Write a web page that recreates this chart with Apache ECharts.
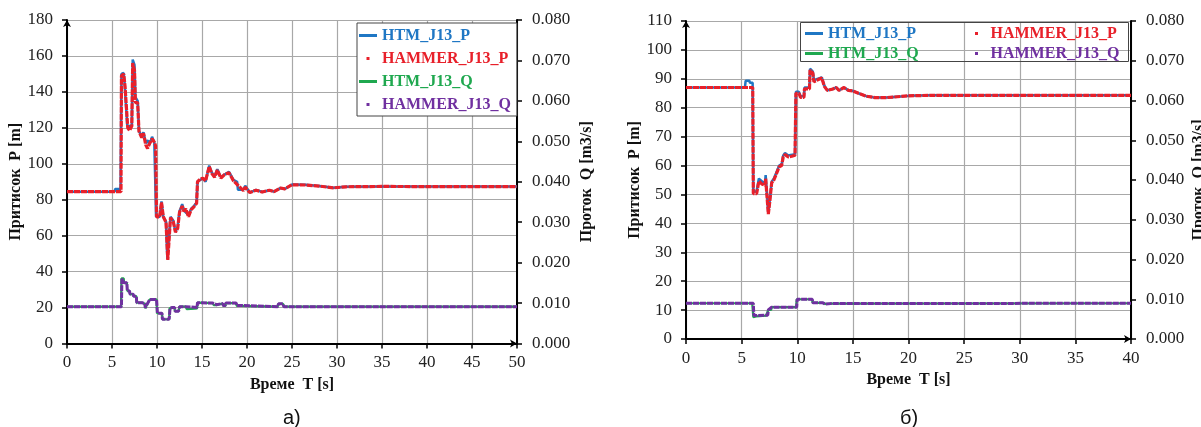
<!DOCTYPE html>
<html>
<head>
<meta charset="utf-8">
<script src="https://cdn.jsdelivr.net/npm/echarts@6/dist/echarts.min.js"></script>
<style>
  html, body { margin: 0; padding: 0; background: #fff; }
  #chart { width: 1201px; height: 427px; }
</style>
</head>
<body>
<div id="chart"></div>
<script>
// ---- panel a) : time [s], pressure [m], flow [m3/s] ----
const htmPa = [[0,84.5],[5.3,84.5],[5.35,86],[5.95,86],[6.05,150],[6.3,150.5],[6.4,145],[6.6,145],[6.7,121],[7.2,121],[7.3,158],[7.5,155],[7.6,137],[7.85,135],[8.0,118],[8.3,115.5],[8.5,117.5],[8.75,111.5],[9.0,113],[9.15,110.5],[9.45,115],[9.7,112],[9.85,111],[9.9,70.5],[10.3,70.5],[10.5,79],[10.7,70.5],[11.0,68],[11.15,47],[11.35,47],[11.5,70.5],[11.8,68.5],[12.05,62],[12.3,65],[12.5,73.5],[12.8,77.5],[13.0,74],[13.2,75],[13.5,71.5],[13.8,75],[14.1,76.5],[14.4,78.5],[14.5,90],[14.8,91],[15.1,92],[15.4,90],[15.8,99],[16.1,95],[16.4,93],[16.7,97],[17.1,92.5],[17.5,94],[18.0,95.5],[18.5,91],[18.9,90],[19.0,85.5],[19.6,85.5],[19.8,87.8],[20.3,84],[21.0,85.5],[21.7,84.3],[22.5,85.3],[23.0,84.5],[23.7,86.5],[24.2,86],[25.0,88.5],[26.5,88.3],[28.0,87.6],[29.6,86.6],[31,87.2],[35,87.4],[40,87.3],[45,87.3],[50,87.3]];
const hammerPa = [[0,84.5],[6.0,84.5],[6.05,149],[6.3,150],[6.45,143],[6.65,143],[6.75,120],[6.95,118.5],[7.2,121],[7.3,156],[7.5,152],[7.6,134],[7.85,134],[8.0,118],[8.3,114.5],[8.5,117],[8.75,110.5],[8.95,108.5],[9.15,111],[9.45,114],[9.7,112],[9.85,110],[9.95,70.5],[10.3,70.5],[10.5,78.5],[10.7,70.5],[11.0,67.5],[11.2,46.5],[11.5,70],[11.8,68],[12.05,62],[12.3,64],[12.5,73],[12.8,76.5],[13.0,73.5],[13.2,75],[13.5,70.5],[13.8,74.5],[14.1,76],[14.4,78],[14.5,90],[14.8,91.5],[15.1,92],[15.4,90.5],[15.8,98.5],[16.1,94.5],[16.4,92.5],[16.7,96.5],[17.1,92],[17.5,94],[18.0,95],[18.5,90.5],[19.0,88],[19.6,85],[19.8,87],[20.3,84],[21.0,85.3],[21.7,84.3],[22.5,85.3],[23.0,84.5],[23.7,86.5],[24.2,86],[25.0,88.3],[26.5,88.2],[28.0,87.6],[29.6,86.6],[31,87.2],[35,87.4],[40,87.3],[45,87.3],[50,87.3]];
const htmQa = [[0,0.0091],[6.0,0.0091],[6.05,0.0161],[6.3,0.0161],[6.35,0.0150],[6.65,0.0150],[6.7,0.0130],[6.95,0.0130],[7.0,0.0122],[7.35,0.0122],[7.4,0.0117],[7.7,0.0117],[7.75,0.0101],[8.35,0.0101],[8.4,0.0098],[8.65,0.0098],[8.7,0.0087],[8.9,0.0087],[8.95,0.0099],[9.15,0.0099],[9.2,0.0109],[9.95,0.0109],[10.0,0.0075],[10.55,0.0075],[10.6,0.0060],[11.35,0.0060],[11.4,0.0087],[11.7,0.0089],[11.95,0.0089],[12.0,0.0080],[12.4,0.0080],[12.5,0.0091],[13.2,0.0091],[13.3,0.0085],[14.2,0.0086],[14.45,0.0087],[14.5,0.0101],[16.2,0.0100],[16.3,0.0095],[16.6,0.0095],[16.7,0.0099],[17.3,0.0099],[17.35,0.0093],[17.6,0.0093],[17.65,0.0100],[18.8,0.0100],[18.85,0.0093],[19.3,0.0093],[19.5,0.0091],[23.4,0.0091],[23.5,0.0098],[24.0,0.0098],[24.1,0.0091],[50,0.0091]];
const hammerQa = [[0,0.0091],[6.05,0.0091],[6.1,0.0160],[6.3,0.0160],[6.35,0.0150],[6.65,0.0150],[6.7,0.0130],[6.95,0.0130],[7.0,0.0122],[7.35,0.0122],[7.4,0.0117],[7.7,0.0117],[7.75,0.0101],[8.35,0.0101],[8.4,0.0098],[8.65,0.0098],[8.7,0.0088],[8.9,0.0088],[8.95,0.0099],[9.15,0.0099],[9.2,0.0109],[9.95,0.0109],[10.05,0.0075],[10.55,0.0075],[10.6,0.0060],[11.35,0.0060],[11.45,0.0087],[11.7,0.0089],[11.95,0.0089],[12.0,0.0080],[12.4,0.0080],[12.5,0.0091],[13.2,0.0091],[13.3,0.0089],[14.45,0.0089],[14.5,0.0101],[16.2,0.0100],[16.3,0.0096],[16.6,0.0096],[16.7,0.0099],[17.3,0.0099],[17.35,0.0094],[17.6,0.0094],[17.65,0.0100],[18.8,0.0100],[18.85,0.0094],[19.3,0.0094],[19.5,0.0091],[23.4,0.0091],[23.5,0.0098],[24.0,0.0098],[24.1,0.0091],[50,0.0091]];

// ---- panel б) ----
const htmPb = [[0,87],[5.3,87],[5.36,89.3],[5.7,89.3],[5.75,88.6],[5.99,88.6],[6.05,51],[6.35,51],[6.55,55.5],[6.7,56],[6.86,54.4],[7.1,54],[7.16,56.7],[7.3,56.5],[7.4,43.4],[7.5,43.4],[7.55,48.6],[7.65,48.6],[7.7,54.4],[7.9,55.5],[8.06,57],[8.38,60],[8.6,60.5],[8.74,63.5],[8.9,64.3],[9.2,63.5],[9.5,63.7],[9.8,64],[9.88,85.5],[10.15,85.5],[10.3,84],[10.6,84],[10.65,87],[11.1,87],[11.15,93.5],[11.4,92.5],[11.5,89.5],[11.8,90],[12.2,90.5],[12.45,87.5],[12.7,86],[13.2,86.5],[13.5,87],[13.75,86],[14.2,87],[14.6,86],[15.0,85.8],[15.5,85],[16.2,84],[17,83.5],[18,83.5],[19,83.8],[20,84.1],[22,84.3],[25,84.3],[30,84.3],[35,84.3],[40,84.3]];
const hammerPb = [[0,87],[6.0,87],[6.05,50.3],[6.35,50.3],[6.55,54.6],[6.7,55],[6.86,53.5],[7.1,53.2],[7.16,55.5],[7.3,55.5],[7.4,43.2],[7.5,43.2],[7.55,48.2],[7.65,48.2],[7.7,54],[7.9,55],[8.06,56.5],[8.38,59.6],[8.6,60],[8.74,63],[8.9,63.8],[9.2,63],[9.5,63.2],[9.8,63.6],[9.88,85],[10.15,85],[10.3,83.6],[10.6,83.6],[10.65,86.5],[11.1,86.5],[11.15,93],[11.4,92],[11.5,89],[11.8,89.6],[12.2,90.3],[12.45,87.3],[12.7,86],[13.2,86.5],[13.5,87],[13.75,86],[14.2,87],[14.6,86],[15.0,85.8],[15.5,85],[16.2,84],[17,83.5],[18,83.5],[19,83.8],[20,84.1],[22,84.3],[25,84.3],[30,84.3],[35,84.3],[40,84.3]];
const htmQb = [[0,0.0090],[5.95,0.0090],[6.05,0.0055],[6.3,0.0057],[7.2,0.0059],[7.35,0.0060],[7.4,0.0073],[7.65,0.0073],[7.7,0.0080],[9.9,0.0080],[9.95,0.0100],[11.3,0.0100],[11.4,0.0091],[12.3,0.0091],[12.5,0.0088],[13.0,0.0089],[40,0.0090]];
const hammerQb = [[0,0.0090],[6.05,0.0090],[6.1,0.0059],[7.35,0.0060],[7.4,0.0073],[7.7,0.0080],[9.95,0.0080],[10.0,0.0100],[11.35,0.0100],[11.4,0.0091],[12.3,0.0091],[12.5,0.0088],[13.0,0.0089],[40,0.0090]];

const names = ['HTM_J13_P', 'HAMMER_J13_P', 'HTM_J13_Q', 'HAMMER_J13_Q'];
const colors = ['#1f77c4', '#e8202a', '#1fa84f', '#7030a0'];

const serif = '"Liberation Serif", "Times New Roman", serif';

function xAxisCfg(idx, max) {
  return {
    gridIndex: idx, type: 'value', min: 0, max: max, interval: 5,
    name: 'Време  T [s]', nameLocation: 'middle', nameGap: 32,
    nameTextStyle: { fontFamily: serif, fontWeight: 'bold', fontSize: 16, color: '#111' },
    axisLine: { onZero: false, lineStyle: { color: '#000', width: 2 }, symbol: ['none', 'arrow'], symbolSize: [6, 7] },
    axisTick: { show: true, length: 5, lineStyle: { color: '#000', width: 1.5 } },
    axisLabel: { margin: 11, fontFamily: serif, fontSize: 17, color: '#222' },
    splitLine: { show: true, lineStyle: { color: '#a8a8a8', width: 1.2 } }
  };
}
function leftAxisCfg(idx, max, step) {
  return {
    gridIndex: idx, type: 'value', position: 'left', min: 0, max: max, interval: step,
    name: 'Притисок  P [m]', nameLocation: 'middle', nameGap: 42, nameRotate: 90,
    nameTextStyle: { fontFamily: serif, fontWeight: 'bold', fontSize: 16, color: '#111' },
    axisLine: { show: true, onZero: false, lineStyle: { color: '#000', width: 2 }, symbol: ['none', 'arrow'], symbolSize: [6, 7] },
    axisTick: { show: true, length: 5, lineStyle: { color: '#000', width: 1.5 } },
    axisLabel: { margin: 14, fontFamily: serif, fontSize: 17, color: '#222' },
    splitLine: { show: true, lineStyle: { color: '#a8a8a8', width: 1.2 } }
  };
}
function rightAxisCfg(idx, gap) {
  return {
    gridIndex: idx, type: 'value', position: 'right', min: 0, max: 0.08, interval: 0.01,
    name: 'Проток  Q [m3/s]', nameLocation: 'middle', nameGap: gap, nameRotate: 90,
    nameTextStyle: { fontFamily: serif, fontWeight: 'bold', fontSize: 16, color: '#111' },
    axisLine: { show: true, onZero: false, lineStyle: { color: '#000', width: 2 } },
    axisTick: { show: true, length: 5, lineStyle: { color: '#000', width: 1.5 } },
    axisLabel: { margin: 15, fontFamily: serif, fontSize: 17, color: '#222', formatter: v => v.toFixed(3) },
    splitLine: { show: false }
  };
}

function lineSeries(name, data, xi, yi, color, width, dashed) {
  return {
    name: name, type: 'line', xAxisIndex: xi, yAxisIndex: yi, data: data,
    showSymbol: false, symbol: 'none', color: color,
    lineStyle: { color: color, width: width, type: dashed ? [6, 1] : 'solid' },
    emphasis: { disabled: true }
  };
}

function legendItem(i, isLine) {
  return {
    name: names[i],
    icon: isLine ? 'rect' : 'path://M0,0L1,0L1,1L0,1Z',
    textStyle: { color: colors[i] }
  };
}
const legendText = { fontFamily: serif, fontWeight: 'bold', fontSize: 16, lineHeight: 17 };

const chart = echarts.init(document.getElementById('chart'));
chart.setOption({
  animation: false,
  backgroundColor: '#fff',
  grid: [
    { left: 67, right: 684, top: 20, bottom: 83.5, containLabel: false, outerBoundsMode: 'none' },
    { left: 686, right: 70, top: 21, bottom: 88, containLabel: false, outerBoundsMode: 'none' }
  ],
  xAxis: [xAxisCfg(0, 50), xAxisCfg(1, 40)],
  yAxis: [
    leftAxisCfg(0, 180, 20), rightAxisCfg(0, 62),
    leftAxisCfg(1, 110, 10), rightAxisCfg(1, 60)
  ],
  legend: [
    {
      orient: 'vertical', left: 357, top: 23, padding: [4, 6, 3, 2], itemGap: 6,
      itemWidth: 18, itemHeight: 3, itemStyle: { borderWidth: 0 },
      borderColor: '#444', borderWidth: 1, backgroundColor: '#fff',
      textStyle: legendText, selectedMode: false,
      data: [legendItem(0, true), legendItem(1, false), legendItem(2, true), legendItem(3, false)]
    },
    {
      orient: 'vertical', left: 805, top: 25, padding: 0, itemGap: 3,
      itemWidth: 18, itemHeight: 3, itemStyle: { borderWidth: 0 },
      textStyle: legendText, selectedMode: false,
      data: [legendItem(0, true), legendItem(2, true)]
    },
    {
      orient: 'vertical', left: 975, top: 25, padding: 0, itemGap: 3,
      itemWidth: 18, itemHeight: 3, itemStyle: { borderWidth: 0 },
      textStyle: legendText, selectedMode: false,
      data: [legendItem(1, false), legendItem(3, false)]
    }
  ],
  graphic: [
    { type: 'rect', z: 5, shape: { x: 800.5, y: 22.5, width: 328, height: 39 },
      style: { fill: 'rgba(255,255,255,0)', stroke: '#444', lineWidth: 1 } },
    { type: 'text', left: 283, top: 408,
      style: { text: 'a)', font: '20px "Liberation Sans", Arial, sans-serif', fill: '#111' } },
    { type: 'text', left: 900, top: 408,
      style: { text: 'б)', font: '20px "Liberation Sans", Arial, sans-serif', fill: '#111' } }
  ],
  series: [
    lineSeries(names[0], htmPa, 0, 0, colors[0], 2.5, false),
    lineSeries(names[1], hammerPa, 0, 0, colors[1], 3.2, true),
    lineSeries(names[2], htmQa, 0, 1, colors[2], 2.2, false),
    lineSeries(names[3], hammerQa, 0, 1, colors[3], 3, true),
    lineSeries(names[0], htmPb, 1, 2, colors[0], 2.5, false),
    lineSeries(names[1], hammerPb, 1, 2, colors[1], 3.2, true),
    lineSeries(names[2], htmQb, 1, 3, colors[2], 2.2, false),
    lineSeries(names[3], hammerQb, 1, 3, colors[3], 3, true)
  ]
});
</script>
</body>
</html>
